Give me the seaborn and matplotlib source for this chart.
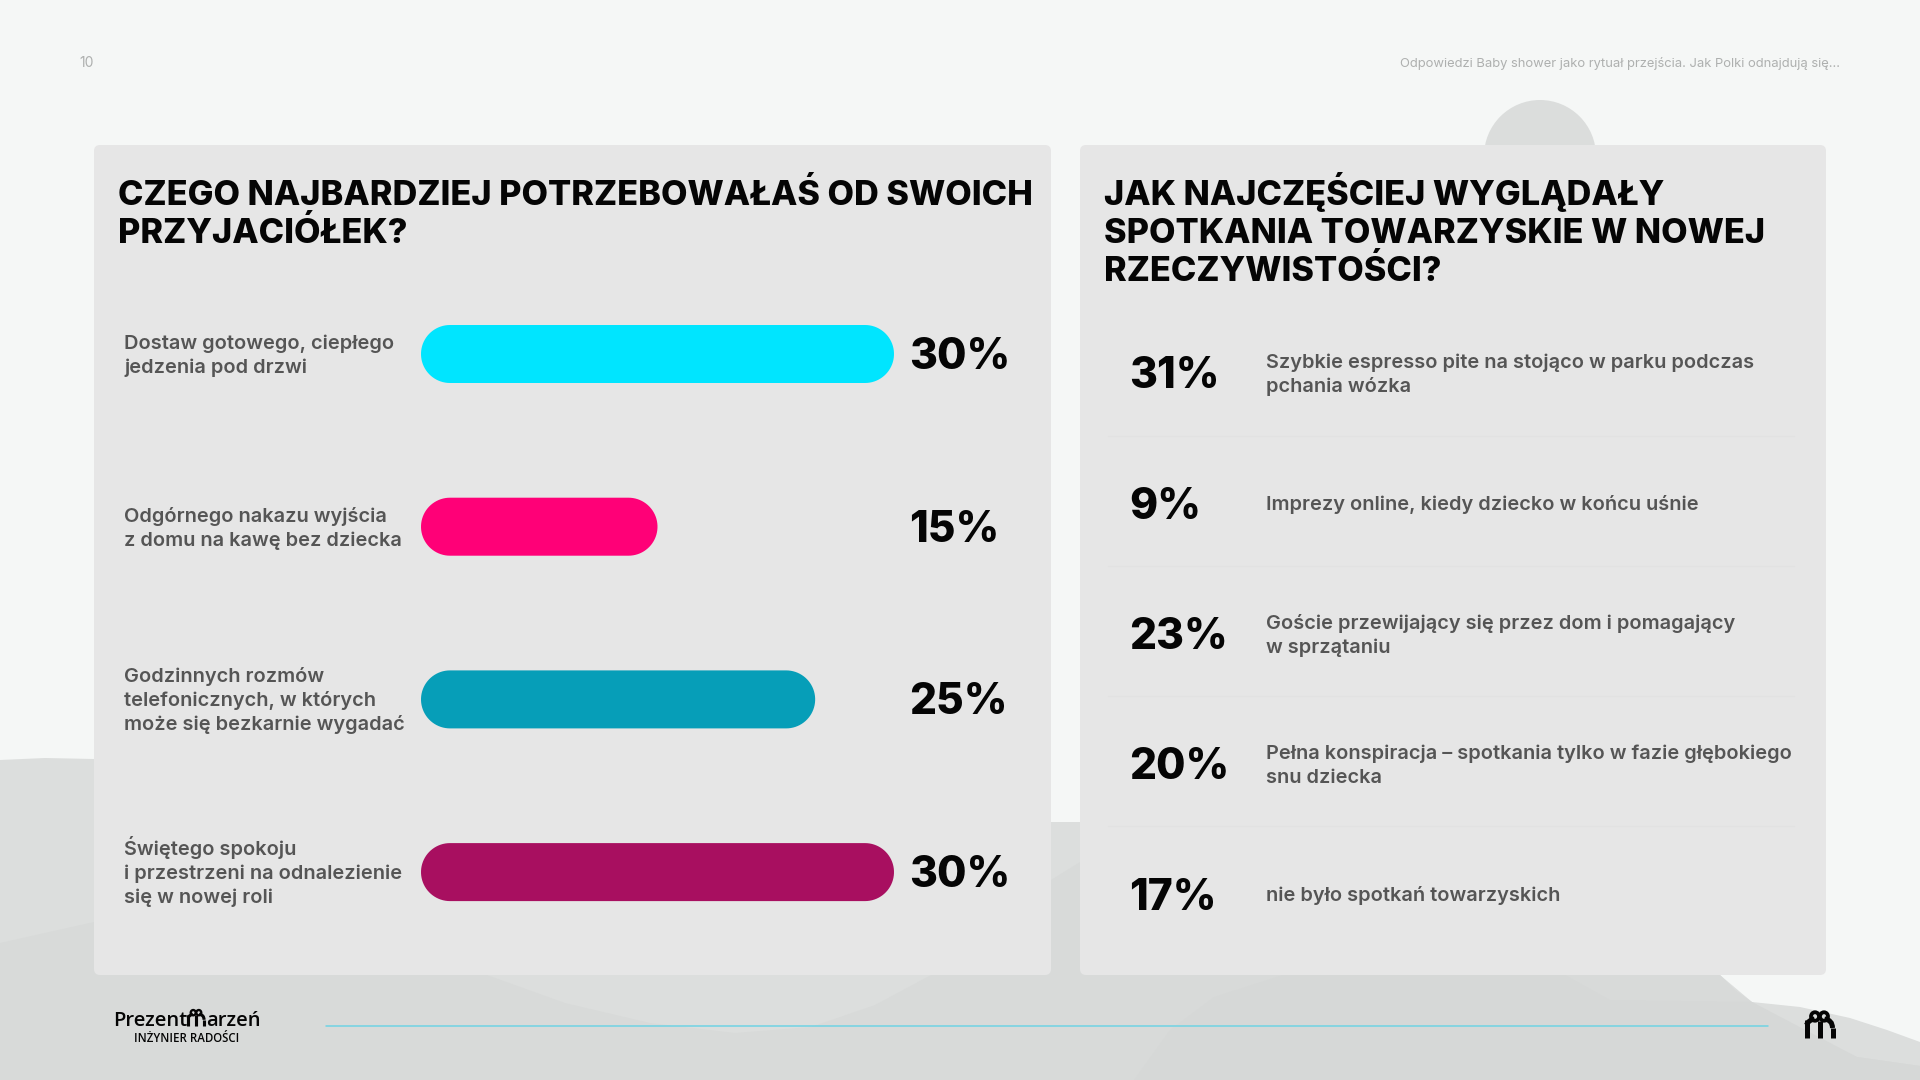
#!/usr/bin/env python3
"""Survey slide: two question panels, rounded bars on the left, ranked answers on the right."""

import numpy as np
import pandas as pd
import matplotlib.pyplot as plt
from matplotlib.patches import Circle, Ellipse, FancyBboxPatch, PathPatch, Polygon
from matplotlib.path import Path

import seaborn as sns

W, H = 1920, 1080

PAGE_NUMBER = "10"
PAGE_HEADER = "Odpowiedzi Baby shower jako rytuał przejścia. Jak Polki odnajdują się..."

LEFT_TITLE = "CZEGO NAJBARDZIEJ POTRZEBOWAŁAŚ OD SWOICH\nPRZYJACIÓŁEK?"
LEFT_LABELS = [
    "Dostaw gotowego, ciepłego\njedzenia pod drzwi",
    "Odgórnego nakazu wyjścia\nz domu na kawę bez dziecka",
    "Godzinnych rozmów\ntelefonicznych, w których\nmoże się bezkarnie wygadać",
    "Świętego spokoju\ni przestrzeni na odnalezienie\nsię w nowej roli",
]
LEFT_VALUES = [30, 15, 25, 30]
LEFT_COLORS = ["#00E5FF", "#FF0077", "#069EB8", "#A80F60"]

RIGHT_TITLE = "JAK NAJCZĘŚCIEJ WYGLĄDAŁY\nSPOTKANIA TOWARZYSKIE W NOWEJ\nRZECZYWISTOŚCI?"
RIGHT_LABELS = [
    "Szybkie espresso pite na stojąco w parku podczas\npchania wózka",
    "Imprezy online, kiedy dziecko w końcu uśnie",
    "Goście przewijający się przez dom i pomagający\nw sprzątaniu",
    "Pełna konspiracja – spotkania tylko w fazie głębokiego\nsnu dziecka",
    "nie było spotkań towarzyskich",
]
RIGHT_VALUES = [31, 9, 23, 20, 17]

INK = "#050505"
GREY_TEXT = "#555555"
PAGE_BG = "#F5F7F6"
PANEL_BG = "#E6E6E6"
LABEL_SIZE = 14.38
VALUE_SIZE = 30.6
TITLE_SIZE = 24.7


def draw_background(bg):
    # hills behind the panels, in pixel coords
    light = [(0, 760), (45, 758), (94, 759), (600, 800), (1051, 822), (1080, 822), (1400, 840),
             (1720, 975), (1752, 1002), (1800, 1007), (1850, 1018), (1887, 1030), (1920, 1042),
             (1920, 1080), (0, 1080)]
    dark = [(0, 943), (94, 922), (300, 900), (487, 975), (565, 1003), (650, 1023), (735, 1033),
            (811, 1027), (875, 1005), (931, 975), (1051, 880), (1080, 862), (1400, 860),
            (1720, 975), (1735, 990), (1752, 1002), (1800, 1036), (1857, 1057), (1920, 1066),
            (1920, 1080), (0, 1080)]
    darker = [(1283, 975), (1214, 997), (1170, 1030), (1134, 1080), (1920, 1080), (1920, 1066),
              (1857, 1057), (1752, 1002), (1610, 1000), (1565, 975)]
    bg.add_patch(Circle((1540, 156), 56, fc="#DBDDDC", ec="none"))
    bg.add_patch(Polygon(light, closed=True, fc="#DCDEDD", ec="none"))
    bg.add_patch(Polygon(dark, closed=True, fc="#D8DAD9", ec="none"))
    bg.add_patch(Polygon(darker, closed=True, fc="#D6D8D7", ec="none"))


def draw_panel(bg, x0, x1, y0=145, y1=975):
    bg.add_patch(FancyBboxPatch((x0, y0), x1 - x0, y1 - y0, boxstyle="round,pad=0,rounding_size=6",
                                fc=PANEL_BG, ec="none", zorder=2))


def draw_lines(bg, x, first_baseline, step, text, **kw):
    # one Text per line: matplotlib's line height changes with accented capitals
    for k, line in enumerate(text.split("\n")):
        bg.text(x, first_baseline + k * step, line, va="baseline", ha="left", zorder=5, **kw)


def draw_block(bg, x, center, text):
    # label block centred on a row, 24 px between lines
    n = text.count("\n") + 1
    first = center - (n - 1) * 12 + 7
    draw_lines(bg, x, first, 24, text, fontsize=LABEL_SIZE, fontweight=600, color=GREY_TEXT)


def draw_mark(bg, cx, bottom, s=1.0):
    # the "m" with a bow on top, drawn with strokes
    lw = 3.6 * s

    def stroke(verts, codes):
        pts = [(cx + dx * s, bottom + dy * s) for dx, dy in verts]
        bg.add_patch(PathPatch(Path(pts, codes), fc="none", ec=INK, lw=lw, capstyle="butt", zorder=5))

    line = [Path.MOVETO, Path.LINETO]
    curve = [Path.MOVETO, Path.CURVE3, Path.CURVE3]
    stroke([(-13, 0), (-13, -18)], line)
    stroke([(0, 0), (0, -17)], line)
    stroke([(13, 0), (13, -10)], line)
    stroke([(-13, -13), (-11, -18), (-5, -19)], curve)
    stroke([(13, -10), (13, -18), (5, -19)], curve)
    for dx in (-4.5, 4.5):
        bg.add_patch(Ellipse((cx + dx * s, bottom - 21.5 * s), 8 * s, 8.5 * s, fc="none", ec=INK,
                             lw=lw * 0.75, zorder=5))


def draw_logo(bg):
    logo_font = dict(fontsize=14.6, fontweight=600, family="Open Sans", color=INK, va="baseline", zorder=5)
    bg.text(113, 1026, "Prezent", ha="left", **logo_font)
    bg.text(206, 1026, "arzeń", ha="left", **logo_font)
    draw_mark(bg, 196, 1026, s=0.62)
    bg.text(187, 1038, "INŻYNIER RADOŚCI", fontsize=8.3, fontweight=600, family="Open Sans", color=INK,
            va="center", ha="center", zorder=5)
    draw_mark(bg, 1819.5, 1038)


def pill_points(x, y, w, h, rx):
    # outline of a bar with fully round ends, rx in x units, y radius is h / 2
    t = np.linspace(-np.pi / 2, np.pi / 2, 40)
    ry = h / 2
    cy = y + ry
    right = np.column_stack([x + w - rx + rx * np.cos(t), cy + ry * np.sin(t)])
    left = np.column_stack([x + rx - rx * np.cos(t), cy - ry * np.sin(t)])
    return np.vstack([right, left])


def draw_left_bars(fig, bg):
    band = 172.7
    top = 354 - band / 2
    bar_px = 58
    ax = fig.add_axes([421 / W, 1 - (top + 4 * band) / H, 473 / W, 4 * band / H])
    ax.patch.set_alpha(0)

    df = pd.DataFrame({"label": LEFT_LABELS, "value": LEFT_VALUES})
    sns.barplot(data=df, x="value", y="label", hue="label", palette=LEFT_COLORS, legend=False,
                width=bar_px / band, saturation=1, ax=ax)
    ax.set_xlim(0, max(LEFT_VALUES))
    ax.set_ylim(3.5, -0.5)
    ax.set_xlabel("")
    ax.set_ylabel("")
    ax.set_xticks([])
    ax.set_yticks([])
    sns.despine(ax=ax, left=True, bottom=True)

    # swap the square bars for pills of the same size
    radius = (bar_px / 2) / (473 / max(LEFT_VALUES))
    for bar, color in zip(list(ax.patches), LEFT_COLORS):
        pts = pill_points(bar.get_x(), bar.get_y(), bar.get_width(), bar.get_height(), radius)
        bar.set_visible(False)
        ax.add_patch(Polygon(pts, closed=True, fc=color, ec="none", clip_on=False))
    for i, val in enumerate(LEFT_VALUES):
        ax.annotate(f"{val}%", (30.95, i), xytext=(0, -2.5), textcoords="offset points",
                    fontsize=VALUE_SIZE, fontweight=800, color=INK,
                    va="center", ha="left", annotation_clip=False)
    for i, label in enumerate(LEFT_LABELS):
        draw_block(bg, 124, top + band * (i + 0.5), label)


def draw_right_list(bg):
    first, step = 373, 130.3
    for i, (val, label) in enumerate(zip(RIGHT_VALUES, RIGHT_LABELS)):
        y = first + i * step
        bg.text(1129, y + 4, f"{val}%", fontsize=VALUE_SIZE, fontweight=800, color=INK, va="center", zorder=5)
        draw_block(bg, 1266, y, label)
        if i < len(RIGHT_VALUES) - 1:
            bg.plot([1108, 1794], [y + 62.5, y + 62.5], color="#E2E2E2", lw=1, zorder=4)


def main():
    sns.set_theme(style="white")
    plt.rcParams["font.family"] = ["Inter", "DejaVu Sans"]

    fig = plt.figure(figsize=(W / 100, H / 100), dpi=100, facecolor=PAGE_BG)
    bg = fig.add_axes([0, 0, 1, 1])
    bg.set_xlim(0, W)
    bg.set_ylim(H, 0)
    bg.axis("off")

    draw_background(bg)
    draw_panel(bg, 94, 1051)
    draw_panel(bg, 1080, 1826)

    bg.text(79, 63, PAGE_NUMBER, fontsize=10, color="#AEB0AF", va="center", zorder=5)
    bg.text(1840, 63, PAGE_HEADER, fontsize=9.35, color="#AEB0AF", va="center", ha="right", zorder=5)

    draw_lines(bg, 118, 205, 38, LEFT_TITLE, fontsize=TITLE_SIZE, fontweight=800, color=INK)
    draw_lines(bg, 1104, 205, 38, RIGHT_TITLE, fontsize=TITLE_SIZE, fontweight=800, color=INK)

    draw_right_list(bg)
    bg.plot([326, 1768], [1025.7, 1025.7], color="#6FD3E4", lw=1.1, zorder=3)
    draw_logo(bg)
    draw_left_bars(fig, bg)

    fig.savefig("out.png", dpi=100, facecolor=PAGE_BG)
    plt.close(fig)


if __name__ == "__main__":
    main()
